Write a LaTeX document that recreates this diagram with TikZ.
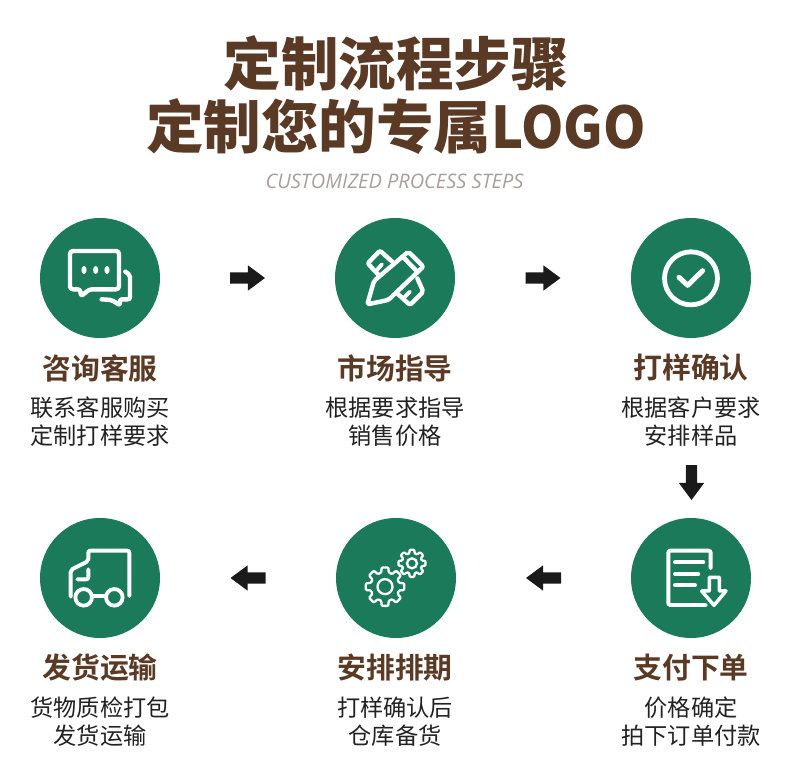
\documentclass[tikz,border=0pt]{standalone}
\usepackage{fontspec}
\setmainfont{Noto Sans CJK SC}
\newfontfamily\titlefont{Noto Sans CJK SC}[UprightFont=* Black]
\newfontfamily\headfont{Noto Sans CJK SC}[UprightFont=* Bold]
\newfontfamily\subfont{Open Sans}[ItalicFont=* Italic]
\usetikzlibrary{shapes.arrows,calc}
\definecolor{brownT}{HTML}{5A3A24}
\definecolor{greenC}{HTML}{1B7A5A}
\definecolor{arrowK}{HTML}{1A1A1A}
\definecolor{bodyK}{HTML}{222222}
\definecolor{subG}{HTML}{A89F9B}
\tikzset{
  px/.style={x=1pt,y=-1pt},
  stepcircle/.style={circle,fill=greenC,minimum size=120pt,inner sep=0pt,outer sep=0pt},
  bigtitle/.style={font=\titlefont\fontsize{57.5}{60}\selectfont,text=brownT,inner sep=0pt},
  steptitle/.style={font=\headfont\fontsize{28.8}{32}\selectfont,text=brownT,inner sep=0pt},
  stepbody/.style={font=\fontsize{23.2}{28}\selectfont,text=bodyK,inner sep=0pt,align=center},
  blockarrow/.style={single arrow,fill=arrowK,inner sep=5.5pt,outer sep=0pt,minimum width=25pt,minimum height=35pt,
    single arrow head extend=7pt,single arrow tip angle=73,anchor=tail},
  ic/.style={draw=white,line width=3.9pt,line cap=round,line join=round,rounded corners=2pt},
  icbold/.style={ic,line width=4.4pt},
  icsharp/.style={draw=white,line width=3.5pt,line cap=round,line join=round}
}
\newcommand{\gearpath}[5]{% cx cy router rinner hole
  \draw[draw=white,line width=2.3pt,line join=round,rounded corners=1pt]
    ($(#1,#2)+(-10:#3)$)
    \foreach \a in {0,45,...,315}{
      -- ($(#1,#2)+(\a-10:#3)$) -- ($(#1,#2)+(\a+10:#3)$) -- ($(#1,#2)+(\a+15:#4)$) -- ($(#1,#2)+(\a+30:#4)$)
    } -- cycle;
  \draw[draw=white,line width=2.3pt] (#1,#2) circle (#5);
}
\begin{document}
\begin{tikzpicture}[px]
\useasboundingbox (0,0) rectangle (790,773);
\fill[white] (0,0) rectangle (790,773);
\node[bigtitle] (t1) at (396,63) {定制流程步骤};
\node[bigtitle] (t2) at (396,127) {定制您的专属\scalebox{.94}[1]{LOGO}};
\node[font=\subfont\itshape\fontsize{20}{24}\selectfont,text=subG,inner sep=0pt] (t3) at (394.5,181) {CUSTOMIZED PROCESS STEPS};

\node[stepcircle] (c1) at (100,278) {};
\node[stepcircle] (c2) at (395,278) {};
\node[stepcircle] (c3) at (691,278) {};
\node[stepcircle] (c4) at (691,578) {};
\node[stepcircle] (c5) at (396,578) {};
\node[stepcircle] (c6) at (100,578) {};

\node[blockarrow] (a12) at ($(c1)!0.5!(c2)+(-17.5,0)$) {};
\node[blockarrow] (a23) at ($(c2)!0.5!(c3)+(-17.5,0)$) {};
\node[blockarrow,rotate=-90] (a34) at (691.5,465) {};
\node[blockarrow,rotate=180] (a45) at ($(c4)!0.5!(c5)+(17.5,0)$) {};
\node[blockarrow,rotate=180] (a56) at ($(c5)!0.5!(c6)+(17.5,0)$) {};

\foreach \n/\x/\y/\h/\b in {
  h1/100/368/咨询客服/{联系客服购买\\定制打样要求},
  h2/395/368/市场指导/{根据要求指导\\销售价格},
  h3/691/368/打样确认/{根据客户要求\\安排样品},
  h4/691/668/支付下单/{价格确定\\拍下订单付款},
  h5/395/668/安排排期/{打样确认后\\仓库备货},
  h6/100/668/发货运输/{货物质检打包\\发货运输}}{
  \node[steptitle] (\n) at (\x,\y) {\h};
  \node[stepbody] (\n b) at (\x,\y+54) {\b};
}

% chat icon
\begin{scope}[shift={(20,200)},x=0.3333pt,y=-0.3333pt]
  \draw[icbold,rounded corners=3pt] (182,268) -- (150,268) -- (150,153) -- (297,153) -- (297,268) -- (208,268) -- (182,290) -- cycle;
  \foreach \x in {192,227,261}{\fill[white] (\x,210) ellipse (2.6pt and 4pt);}
  \draw[icbold] (316,215) -- (330,225) -- (330,298) -- (300,298) -- (300,316) -- (275,300) -- (245,298);
\end{scope}

% pencil and ruler icon
\begin{scope}[shift={(320,210)},x=0.3333pt,y=-0.3333pt]
  \draw[icbold] (265,125) -- (162,213) -- (142,283) -- (205,270) -- (310,170) -- cycle;
  \draw[icbold] (248,140) -- (292,185);
  \draw[icbold] (178,197) -- (143,160) -- (180,122) -- (222,160);
  \draw[ic] (168,183) -- (186,163);
  \draw[icbold] (292,205) -- (310,245) -- (270,285) -- (228,247);
  \draw[ic] (250,265) -- (270,245);
\end{scope}

% check icon
\begin{scope}[shift={(620,210)},x=0.3333pt,y=-0.3333pt]
  \draw[draw=white,line width=4.8pt] (213,205) circle (26.5pt);
  \draw[draw=white,line width=5pt,line cap=round,line join=round] (177,202) -- (203,226) -- (248,182);
\end{scope}

% document icon
\begin{scope}[shift={(620,460)},x=0.3333pt,y=-0.3333pt]
  \draw[ic] (272,325) -- (272,272) -- (145,272) -- (145,435) -- (258,435);
  \draw[ic] (165,307) -- (250,307);
  \draw[ic] (165,342) -- (235,342);
  \draw[ic] (165,376) -- (225,376);
  \draw[icsharp] (268,352) -- (298,352) -- (298,393) -- (318,393) -- (282,436) -- (245,393) -- (268,393) -- cycle;
\end{scope}

% gears icon
\begin{scope}[shift={(320,510)},x=0.3333pt,y=-0.3333pt]
  \gearpath{195}{230}{19.5pt}{14.5pt}{7.5pt}
  \gearpath{276}{160}{13.8pt}{10.2pt}{5pt}
\end{scope}

% truck icon
\begin{scope}[shift={(30,510)},x=0.3333pt,y=-0.3333pt]
  \draw[ic] (122,260) -- (122,180) -- (175,153) -- (175,122) -- (298,122) -- (298,258);
  \draw[ic] (175,178) -- (175,208) -- (142,208);
  \draw[draw=white,line width=3.8pt] (161,262) circle (8.3pt);
  \draw[draw=white,line width=3.8pt] (253,262) circle (8.3pt);
  \draw[ic] (186,258) -- (228,258);
\end{scope}
\end{tikzpicture}
\end{document}
